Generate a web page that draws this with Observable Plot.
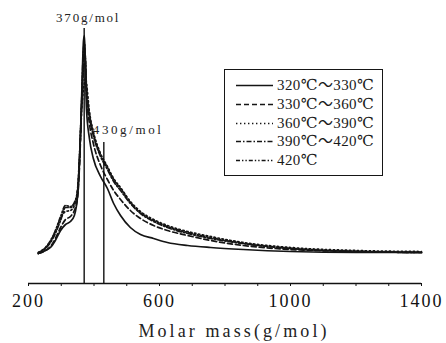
<!DOCTYPE html>
<html>
<head>
<meta charset="utf-8">
<script src="https://cdn.jsdelivr.net/npm/d3@7"></script>
<script src="https://cdn.jsdelivr.net/npm/@observablehq/plot@0.6"></script>
<style>
  html, body { margin: 0; padding: 0; background: #fff; }
  #wrap { position: relative; width: 446px; height: 343px; overflow: hidden; background: #fff; }
  #wrap svg, #wrap svg text { font-family: "Liberation Serif", "DejaVu Serif", serif !important; }
  #wrap svg { letter-spacing: 2px; }
  #legend { position: absolute; left: 224px; top: 69px; width: 159px; height: 107px; box-sizing: border-box;
            border: 1.5px solid #161616; background: #fff;
            font-family: "Liberation Serif", "DejaVu Serif", "Noto Sans CJK SC", serif; font-size: 15px; color: #1a1a1a; }
  .row { position: absolute; left: 0; height: 18px; line-height: 18px; white-space: nowrap; }
  .row svg { position: absolute; left: 10px; top: 0; }
  .row span { position: absolute; left: 52px; top: 0; letter-spacing: 0.4px; }
</style>
</head>
<body>
<div id="wrap"></div>
<script>
// Molar mass grid (g/mol)
const masses = [230, 252, 267, 282, 298, 313, 328, 340, 350, 356, 362, 368, 371, 374, 377, 386, 398, 420, 441, 460, 481, 511, 542, 582, 624, 686, 756, 856, 1000, 1200, 1400];

// Relative intensity of each series (arbitrary units)
const s320_330 = [30, 33, 36, 43, 53, 59, 62, 68, 88, 123, 183, 243, 248, 215, 175, 145, 125, 107, 95, 80, 68, 56, 49, 45, 41, 38, 36, 34, 32, 31, 31];
const s330_360 = [30, 33, 37, 45, 56, 64, 67, 73, 86, 120, 175, 225, 230, 225, 190, 160, 140, 118, 104, 93, 84, 73, 65, 58, 53, 48, 43, 38, 34, 32, 31];
const s360_390 = [31, 36, 42, 52, 65, 72, 73, 78, 95, 130, 170, 195, 200, 205, 200, 172, 152, 130, 117, 105, 96, 82, 72, 64, 58, 52, 47, 41, 36, 33, 32];
const s390_420 = [30, 35, 41, 50, 63, 76, 76, 80, 92, 125, 180, 235, 240, 222, 195, 167, 148, 127, 114, 102, 93, 80, 70, 62, 56, 50, 45, 40, 35, 32, 31];
const s420     = [31, 36, 43, 53, 67, 78, 77, 81, 94, 128, 178, 215, 220, 218, 198, 170, 150, 129, 116, 104, 95, 81, 71, 63, 57, 51, 46, 40, 35, 32, 31];

const seriesNames = ["320℃～330℃", "330℃～360℃", "360℃～390℃", "390℃～420℃", "420℃"];
const seriesValues = [s320_330, s330_360, s360_390, s390_420, s420];
const seriesDash = [null, "5,3", "1.4,2.6", "5,2,1.5,2", "4,2,1.4,2,1.4,2"];

// Peak markers
const peakMasses = [370, 430];
const peakHeights = [255, 141];
const peakLabels = ["370g/mol", "430g/mol"];

// Axis
const xTicks = d3.range(200, 1401, 100);
const xTickLabels = [200, 600, 1000, 1400];
const xTitle = "Molar mass(g/mol)";

const peaks = peakMasses.map((m, i) => ({mass: m, top: peakHeights[i], label: peakLabels[i]}));

const lineMarks = seriesValues.map((vals, k) =>
  Plot.line(masses.map((m, i) => ({mass: m, v: vals[i]})), {
    x: "mass", y: "v", curve: "monotone-x",
    stroke: "#151515", strokeWidth: 1.7,
    strokeDasharray: seriesDash[k] || undefined
  })
);

const chart = Plot.plot({
  width: 446,
  height: 343,
  marginLeft: 28,
  marginRight: 25,
  marginTop: 28,
  marginBottom: 60,
  style: {background: "#fff", color: "#111", fontSize: "18px", fontFamily: "'Liberation Serif', 'DejaVu Serif', serif", overflow: "visible"},
  x: {domain: [200, 1400], ticks: xTicks, tickSize: 3, tickPadding: 8,
      tickFormat: d => xTickLabels.includes(d) ? String(d) : "", label: null},
  y: {domain: [0, 255], axis: null},
  marks: [
    ...lineMarks,
    Plot.ruleX(peaks, {x: "mass", y1: 0, y2: "top", stroke: "#111", strokeWidth: 1.4}),
    Plot.ruleY([0], {stroke: "#111", strokeWidth: 1.6}),
    Plot.text([peaks[0]], {x: "mass", y: "top", text: "label", textAnchor: "middle", lineAnchor: "bottom",
      dx: 4, dy: -7, fontSize: 13, fill: "#222"}),
    Plot.text([peaks[1]], {x: "mass", y: "top", text: "label", textAnchor: "start", lineAnchor: "bottom",
      dx: -11, dy: -9, fontSize: 13, fill: "#222"}),
    Plot.text([xTitle], {frameAnchor: "bottom", text: d => d, lineAnchor: "bottom", dy: 53, dx: 9,
      fontSize: 18, fill: "#222"})
  ]
});
document.getElementById("wrap").appendChild(chart);

// Letter spacing tweaks to mimic the stretched scan typography
d3.select(chart).selectAll("text").each(function () {
  const t = this.textContent;
  if (t === xTitle) this.style.letterSpacing = "3.1px";
  else if (t === peakLabels[1]) this.style.letterSpacing = "2.6px";
  else if (t === peakLabels[0]) this.style.letterSpacing = "1.8px";
});

// Legend box
const legend = document.createElement("div");
legend.id = "legend";
seriesNames.forEach((name, i) => {
  const row = document.createElement("div");
  row.className = "row";
  row.style.top = (6 + i * 18.8) + "px";
  row.style.width = "100%";
  const dash = seriesDash[i] ? ` stroke-dasharray="${seriesDash[i]}"` : "";
  row.innerHTML = `<svg width="40" height="18"><line x1="1" y1="9.5" x2="38" y2="9.5" stroke="#151515" stroke-width="1.7"${dash}/></svg><span>${name}</span>`;
  legend.appendChild(row);
});
document.getElementById("wrap").appendChild(legend);
</script>
</body>
</html>
